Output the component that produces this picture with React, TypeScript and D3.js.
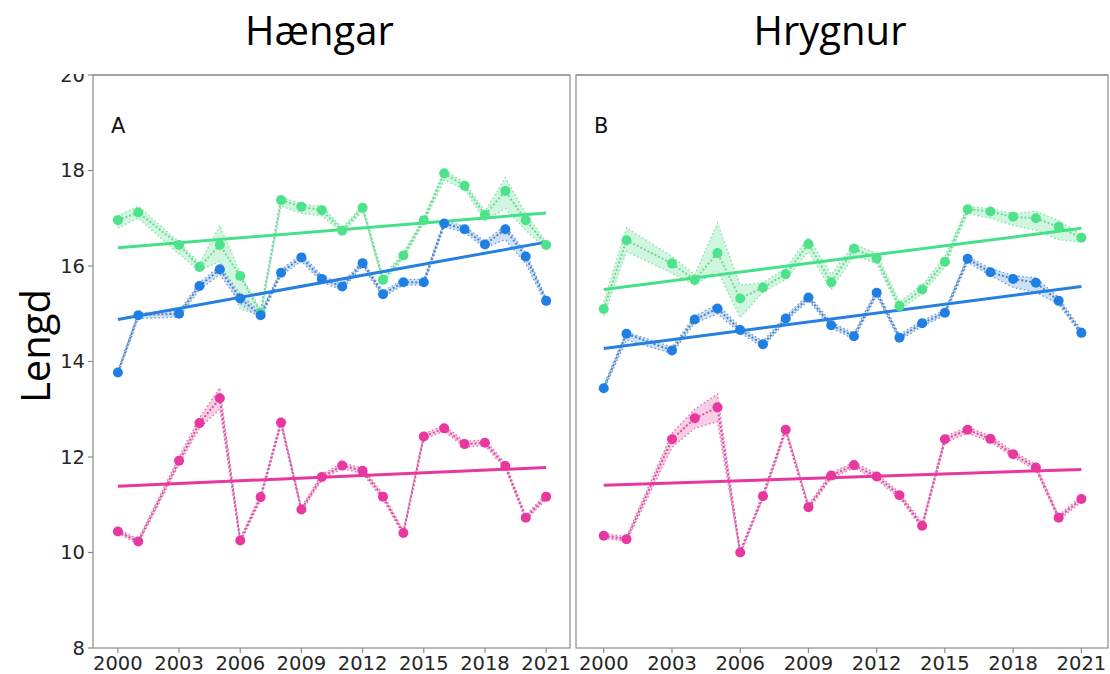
import React, { useEffect, useRef } from "react";
import * as d3 from "d3";

// 2002 is missing in every series
const years = [
  2000, 2001, 2003, 2004, 2005, 2006, 2007, 2008, 2009, 2010, 2011, 2012,
  2013, 2014, 2015, 2016, 2017, 2018, 2019, 2020, 2021,
];
const xTicks = [2000, 2003, 2006, 2009, 2012, 2015, 2018, 2021];
const yTicks = [8, 10, 12, 14, 16, 18, 20];

// panel A (Hængar)
const greenA = [16.96, 17.12, 16.44, 15.98, 16.44, 15.79, 15.02, 17.38, 17.24, 17.17, 16.74, 17.22, 15.71, 16.22, 16.96, 17.94, 17.68, 17.07, 17.57, 16.96, 16.44];
const greenALo = [16.8, 17.0, 16.25, 15.9, 16.1, 15.1, 14.95, 17.25, 17.1, 17.05, 16.68, 17.15, 15.65, 16.15, 16.9, 17.8, 17.6, 16.95, 17.2, 16.75, 16.35];
const greenAHi = [17.05, 17.25, 16.5, 16.05, 16.85, 15.85, 15.08, 17.45, 17.3, 17.25, 16.8, 17.28, 15.78, 16.28, 17.02, 18.0, 17.75, 17.15, 17.85, 17.1, 16.5];
const blueA = [13.77, 14.97, 15.0, 15.58, 15.93, 15.32, 14.97, 15.86, 16.18, 15.73, 15.57, 16.06, 15.41, 15.66, 15.66, 16.89, 16.77, 16.45, 16.77, 16.2, 15.27];
const blueALo = [13.72, 14.9, 14.93, 15.5, 15.82, 15.22, 14.9, 15.8, 16.1, 15.66, 15.5, 16.0, 15.35, 15.6, 15.6, 16.82, 16.7, 16.38, 16.55, 16.05, 15.2];
const blueAHi = [13.82, 15.02, 15.05, 15.65, 16.0, 15.4, 15.03, 15.92, 16.25, 15.8, 15.63, 16.12, 15.47, 15.72, 15.72, 16.95, 16.83, 16.52, 16.85, 16.28, 15.33];
const pinkA = [10.44, 10.23, 11.92, 12.71, 13.23, 10.25, 11.16, 12.72, 10.9, 11.58, 11.82, 11.71, 11.17, 10.41, 12.43, 12.6, 12.27, 12.3, 11.81, 10.73, 11.17];
const pinkALo = [10.4, 10.18, 11.85, 12.6, 13.0, 10.2, 11.1, 12.65, 10.85, 11.52, 11.76, 11.65, 11.11, 10.36, 12.37, 12.54, 12.21, 12.24, 11.75, 10.68, 11.11];
const pinkAHi = [10.49, 10.28, 12.0, 12.82, 13.45, 10.3, 11.22, 12.78, 10.95, 11.64, 11.88, 11.77, 11.23, 10.46, 12.49, 12.66, 12.33, 12.36, 11.87, 10.78, 11.23];

// panel B (Hrygnur)
const greenB = [15.1, 16.54, 16.05, 15.71, 16.27, 15.32, 15.55, 15.83, 16.46, 15.66, 16.36, 16.16, 15.16, 15.51, 16.09, 17.19, 17.14, 17.03, 17.0, 16.82, 16.59];
const greenBLo = [14.95, 16.3, 15.85, 15.6, 15.9, 14.92, 15.45, 15.72, 16.3, 15.5, 16.22, 16.05, 15.08, 15.42, 15.98, 17.1, 17.0, 16.85, 16.75, 16.55, 16.5];
const greenBHi = [15.25, 16.8, 16.2, 15.82, 16.9, 15.6, 15.65, 15.95, 16.6, 15.82, 16.46, 16.26, 15.25, 15.6, 16.2, 17.25, 17.2, 17.1, 17.15, 16.95, 16.66];
const blueB = [13.44, 14.58, 14.23, 14.88, 15.11, 14.66, 14.36, 14.9, 15.34, 14.76, 14.53, 15.44, 14.5, 14.8, 15.02, 16.15, 15.87, 15.73, 15.65, 15.27, 14.6];
const blueBLo = [13.4, 14.45, 14.17, 14.8, 15.0, 14.6, 14.3, 14.84, 15.28, 14.7, 14.47, 15.38, 14.44, 14.74, 14.96, 16.08, 15.8, 15.55, 15.45, 15.2, 14.55];
const blueBHi = [13.5, 14.62, 14.3, 14.95, 15.2, 14.72, 14.42, 14.96, 15.4, 14.82, 14.59, 15.5, 14.56, 14.86, 15.08, 16.2, 15.95, 15.8, 15.75, 15.34, 14.66];
const pinkB = [10.35, 10.28, 12.37, 12.81, 13.04, 10.0, 11.18, 12.57, 10.95, 11.61, 11.83, 11.59, 11.2, 10.56, 12.37, 12.57, 12.38, 12.06, 11.78, 10.73, 11.12];
const pinkBLo = [10.3, 10.23, 12.2, 12.6, 12.74, 9.95, 11.12, 12.5, 10.9, 11.55, 11.77, 11.53, 11.14, 10.5, 12.3, 12.5, 12.32, 12.0, 11.72, 10.68, 11.06];
const pinkBHi = [10.4, 10.33, 12.5, 13.0, 13.32, 10.05, 11.24, 12.63, 11.0, 11.67, 11.89, 11.65, 11.26, 10.62, 12.43, 12.63, 12.44, 12.12, 11.84, 10.78, 11.18];

// trend lines, value at 2000 and 2021
const trendYears = [2000, 2021];
const greenATrend = [16.38, 17.11];
const blueATrend = [14.88, 16.5];
const pinkATrend = [11.39, 11.78];
const greenBTrend = [15.51, 16.79];
const blueBTrend = [14.27, 15.57];
const pinkBTrend = [11.41, 11.74];

const colors = {
  green: { dot: "#4ee38b", line: "#6fd995", fill: "#c9f5da", trend: "#45e08a" },
  blue: { dot: "#1f7fe3", line: "#4f82c4", fill: "#c4dcf5", trend: "#2680e0" },
  pink: { dot: "#e8379f", line: "#d2559f", fill: "#f7c4e2", trend: "#e6389e" },
};

const panels = [
  {
    label: "A", title: "Hængar", left: 93, right: 570, showY: true,
    series: [
      { c: colors.green, v: greenA, lo: greenALo, hi: greenAHi, t: greenATrend },
      { c: colors.blue, v: blueA, lo: blueALo, hi: blueAHi, t: blueATrend },
      { c: colors.pink, v: pinkA, lo: pinkALo, hi: pinkAHi, t: pinkATrend },
    ],
  },
  {
    label: "B", title: "Hrygnur", left: 576, right: 1108, showY: false,
    series: [
      { c: colors.green, v: greenB, lo: greenBLo, hi: greenBHi, t: greenBTrend },
      { c: colors.blue, v: blueB, lo: blueBLo, hi: blueBHi, t: blueBTrend },
      { c: colors.pink, v: pinkB, lo: pinkBLo, hi: pinkBHi, t: pinkBTrend },
    ],
  },
];

const W = 1110;
const H = 674;
const top = 75;
const bottom = 648;
const tickFont = "DejaVu Sans, sans-serif";
const titleFont = "'Open Sans', 'Liberation Sans', sans-serif";

export default function App() {
  const ref = useRef<SVGSVGElement>(null);

  useEffect(() => {
    const svg = d3.select(ref.current);
    svg.selectAll("*").remove();
    svg.append("rect").attr("width", W).attr("height", H).attr("fill", "#fff");

    const y = d3.scaleLinear().domain([8, 20]).range([bottom, top]);

    panels.forEach((p, pi) => {
      const x = d3.scaleLinear().domain([1998.78, 2022.17]).range([p.left, p.right]);
      const g = svg.append("g");
      const clipId = "clip" + pi;
      svg.append("clipPath").attr("id", clipId)
        .append("rect").attr("x", p.left).attr("y", top).attr("width", p.right - p.left).attr("height", bottom - top);
      const plot = g.append("g").attr("clip-path", `url(#${clipId})`);

      p.series.forEach((s) => {
        const area = d3.area<number>()
          .x((_, i) => x(years[i]))
          .y0((_, i) => y(s.lo[i]))
          .y1((_, i) => y(s.hi[i]));
        plot.append("path").datum(s.v).attr("d", area).attr("fill", s.c.fill).attr("opacity", 0.85);
        [s.lo, s.hi].forEach((b) => {
          const bl = d3.line<number>().x((_, i) => x(years[i])).y((d) => y(d));
          plot.append("path").datum(b).attr("d", bl).attr("fill", "none")
            .attr("stroke", s.c.line).attr("stroke-width", 1.3).attr("stroke-dasharray", "1.5,2.5").attr("opacity", 0.8);
        });
        const line = d3.line<number>().x((_, i) => x(years[i])).y((d) => y(d));
        plot.append("path").datum(s.v).attr("d", line).attr("fill", "none")
          .attr("stroke", s.c.line).attr("stroke-width", 2).attr("stroke-dasharray", "2,2");
      });

      p.series.forEach((s) => {
        const tl = d3.line<number>().x((_, i) => x(trendYears[i])).y((d) => y(d));
        plot.append("path").datum(s.t).attr("d", tl).attr("fill", "none")
          .attr("stroke", s.c.trend).attr("stroke-width", 3);
      });

      p.series.forEach((s) => {
        plot.selectAll(null).data(s.v).enter().append("circle")
          .attr("cx", (_, i) => x(years[i])).attr("cy", (d) => y(d))
          .attr("r", 5).attr("fill", s.c.dot);
      });

      // frame
      g.append("rect").attr("x", p.left).attr("y", top)
        .attr("width", p.right - p.left).attr("height", bottom - top)
        .attr("fill", "none").attr("stroke", "#8a8a8a").attr("stroke-width", 1.2);

      // x axis ticks
      xTicks.forEach((t) => {
        g.append("line").attr("x1", x(t)).attr("x2", x(t)).attr("y1", bottom).attr("y2", bottom + 5)
          .attr("stroke", "#8a8a8a").attr("stroke-width", 1.2);
        g.append("text").attr("x", x(t)).attr("y", bottom + 22).attr("text-anchor", "middle")
          .attr("font-family", tickFont).attr("font-size", 19.5).attr("fill", "#262626").text(t);
      });

      if (p.showY) {
        yTicks.forEach((t) => {
          g.append("line").attr("x1", p.left - 5).attr("x2", p.left).attr("y1", y(t)).attr("y2", y(t))
            .attr("stroke", "#8a8a8a").attr("stroke-width", 1.2);
          g.append("text").attr("x", p.left - 8).attr("y", y(t)).attr("dy", "0.35em").attr("text-anchor", "end")
            .attr("font-family", tickFont).attr("font-size", 19.5).attr("fill", "#262626").text(t);
        });
      }

      g.append("text").attr("x", p.left + 18).attr("y", 133)
        .attr("font-family", tickFont).attr("font-size", 21).attr("fill", "#111").text(p.label);
    });

    // the top strip covers the upper half of the "20" label, as in the source
    svg.append("rect").attr("x", 0).attr("y", 0).attr("width", W).attr("height", top - 1).attr("fill", "#fff");
    svg.append("line").attr("x1", 93).attr("x2", 570).attr("y1", top).attr("y2", top).attr("stroke", "#8a8a8a").attr("stroke-width", 1.2);
    svg.append("line").attr("x1", 576).attr("x2", 1108).attr("y1", top).attr("y2", top).attr("stroke", "#8a8a8a").attr("stroke-width", 1.2);

    panels.forEach((p) => {
      svg.append("text").attr("x", (p.left + p.right) / 2 - 12).attr("y", 45).attr("text-anchor", "middle")
        .attr("font-family", titleFont).attr("font-size", 40).attr("fill", "#000").text(p.title);
    });

    svg.append("text").attr("transform", "translate(50,346) rotate(-90)")
      .attr("text-anchor", "middle").attr("font-family", titleFont).attr("font-size", 40)
      .attr("fill", "#000").text("Lengd");
  }, []);

  return (
    <svg ref={ref} width={W} height={H}
      style={{ position: "absolute", left: 0, top: 0, display: "block" }} />
  );
}
